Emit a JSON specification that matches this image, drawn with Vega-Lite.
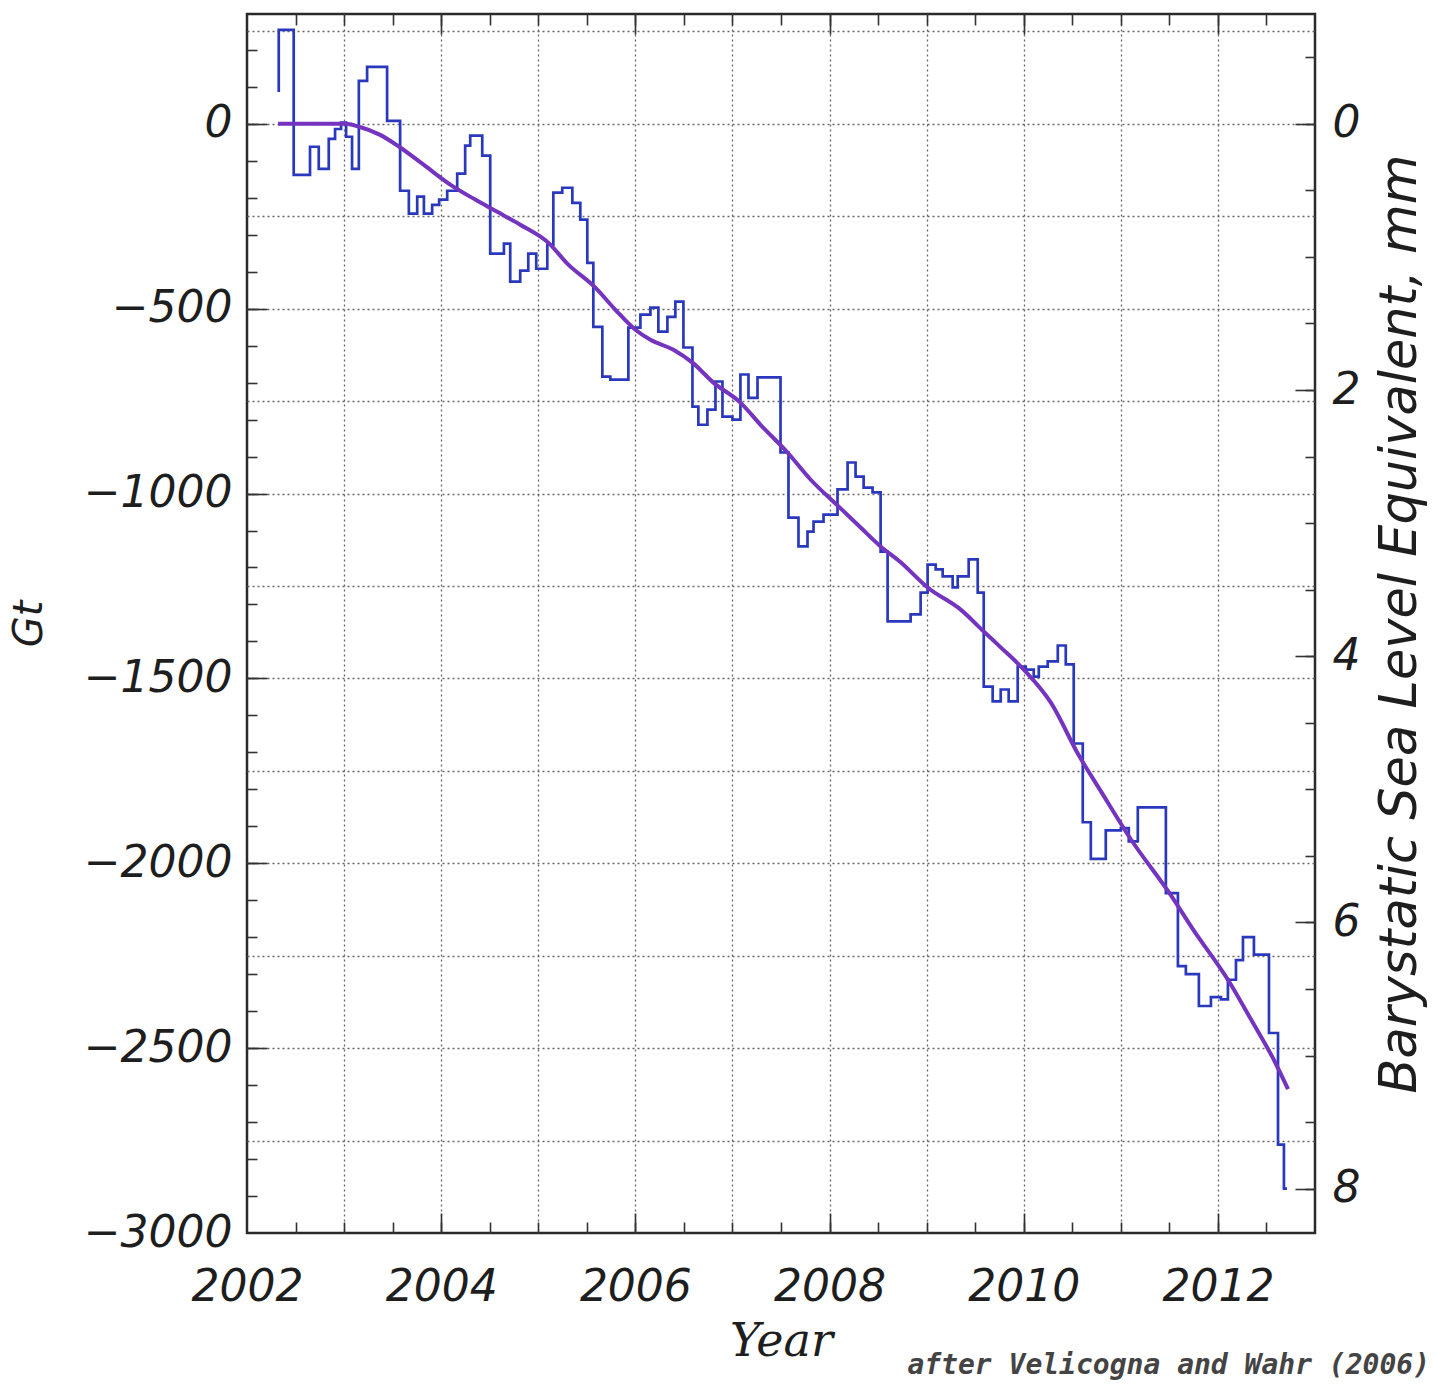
{
  "$schema": "https://vega.github.io/schema/vega-lite/v6.json",
  "width": 1068,
  "height": 1219,
  "autosize": {"type": "none"},
  "padding": {"left": 247, "top": 14, "right": 120, "bottom": 155},
  "background": "white",
  "title": {"text": "after Velicogna and Wahr (2006)", "orient": "bottom", "anchor": "end", "frame": "group", "offset": 0, "dx": 115, "dy": -12, "font": "DejaVu Sans Mono", "fontSize": 28, "fontStyle": "italic", "fontWeight": "bold", "color": "#444444"},
  "config": {
    "view": {"stroke": "#2a2a2a", "strokeWidth": 2.5},
    "axis": {"domain": false, "grid": false, "labelFont": "DejaVu Sans", "labelFontStyle": "italic", "labelFontSize": 44, "labelColor": "#1e1e1e", "labelFlush": false, "labelOverlap": false, "tickColor": "#333333", "tickWidth": 1.6, "titleFont": "DejaVu Sans", "titleFontStyle": "italic", "titleFontWeight": "normal", "titleColor": "#1e1e1e", "gridColor": "#666666", "gridDash": [2, 3], "gridWidth": 1.3, "gridOpacity": 1}
  },
  "datasets": {
    "step": [
      {"i": 0, "t": 2002.327, "gt": 86},
      {"i": 1, "t": 2002.327, "gt": 254},
      {"i": 2, "t": 2002.481, "gt": -138},
      {"i": 3, "t": 2002.649, "gt": -62},
      {"i": 4, "t": 2002.739, "gt": -122},
      {"i": 5, "t": 2002.842, "gt": -41},
      {"i": 6, "t": 2002.907, "gt": -14},
      {"i": 7, "t": 2002.969, "gt": 3},
      {"i": 8, "t": 2003.021, "gt": -35},
      {"i": 9, "t": 2003.082, "gt": -122},
      {"i": 10, "t": 2003.152, "gt": 116},
      {"i": 11, "t": 2003.237, "gt": 154},
      {"i": 12, "t": 2003.443, "gt": 8},
      {"i": 13, "t": 2003.577, "gt": -181},
      {"i": 14, "t": 2003.667, "gt": -243},
      {"i": 15, "t": 2003.753, "gt": -197},
      {"i": 16, "t": 2003.822, "gt": -243},
      {"i": 17, "t": 2003.907, "gt": -219},
      {"i": 18, "t": 2003.979, "gt": -205},
      {"i": 19, "t": 2004.062, "gt": -181},
      {"i": 20, "t": 2004.165, "gt": -135},
      {"i": 21, "t": 2004.247, "gt": -59},
      {"i": 22, "t": 2004.299, "gt": -32},
      {"i": 23, "t": 2004.423, "gt": -86},
      {"i": 24, "t": 2004.505, "gt": -351},
      {"i": 25, "t": 2004.646, "gt": -324},
      {"i": 26, "t": 2004.711, "gt": -427},
      {"i": 27, "t": 2004.814, "gt": -397},
      {"i": 28, "t": 2004.897, "gt": -351},
      {"i": 29, "t": 2004.979, "gt": -392},
      {"i": 30, "t": 2005.093, "gt": -327},
      {"i": 31, "t": 2005.155, "gt": -186},
      {"i": 32, "t": 2005.247, "gt": -173},
      {"i": 33, "t": 2005.351, "gt": -214},
      {"i": 34, "t": 2005.433, "gt": -259},
      {"i": 35, "t": 2005.505, "gt": -376},
      {"i": 36, "t": 2005.567, "gt": -549},
      {"i": 37, "t": 2005.66, "gt": -684},
      {"i": 38, "t": 2005.742, "gt": -692},
      {"i": 39, "t": 2005.928, "gt": -551},
      {"i": 40, "t": 2006.052, "gt": -516},
      {"i": 41, "t": 2006.155, "gt": -497},
      {"i": 42, "t": 2006.237, "gt": -562},
      {"i": 43, "t": 2006.33, "gt": -522},
      {"i": 44, "t": 2006.412, "gt": -481},
      {"i": 45, "t": 2006.495, "gt": -605},
      {"i": 46, "t": 2006.588, "gt": -765},
      {"i": 47, "t": 2006.649, "gt": -814},
      {"i": 48, "t": 2006.742, "gt": -773},
      {"i": 49, "t": 2006.825, "gt": -697},
      {"i": 50, "t": 2006.897, "gt": -792},
      {"i": 51, "t": 2007.0, "gt": -800},
      {"i": 52, "t": 2007.082, "gt": -678},
      {"i": 53, "t": 2007.165, "gt": -741},
      {"i": 54, "t": 2007.258, "gt": -686},
      {"i": 55, "t": 2007.495, "gt": -889},
      {"i": 56, "t": 2007.577, "gt": -1065},
      {"i": 57, "t": 2007.68, "gt": -1143},
      {"i": 58, "t": 2007.773, "gt": -1103},
      {"i": 59, "t": 2007.835, "gt": -1076},
      {"i": 60, "t": 2007.938, "gt": -1057},
      {"i": 61, "t": 2008.082, "gt": -989},
      {"i": 62, "t": 2008.186, "gt": -916},
      {"i": 63, "t": 2008.268, "gt": -954},
      {"i": 64, "t": 2008.351, "gt": -984},
      {"i": 65, "t": 2008.443, "gt": -997},
      {"i": 66, "t": 2008.526, "gt": -1157},
      {"i": 67, "t": 2008.598, "gt": -1346},
      {"i": 68, "t": 2008.835, "gt": -1327},
      {"i": 69, "t": 2008.938, "gt": -1268},
      {"i": 70, "t": 2009.01, "gt": -1192},
      {"i": 71, "t": 2009.093, "gt": -1205},
      {"i": 72, "t": 2009.165, "gt": -1224},
      {"i": 73, "t": 2009.268, "gt": -1254},
      {"i": 74, "t": 2009.32, "gt": -1224},
      {"i": 75, "t": 2009.433, "gt": -1178},
      {"i": 76, "t": 2009.526, "gt": -1268},
      {"i": 77, "t": 2009.588, "gt": -1522},
      {"i": 78, "t": 2009.68, "gt": -1562},
      {"i": 79, "t": 2009.763, "gt": -1530},
      {"i": 80, "t": 2009.845, "gt": -1562},
      {"i": 81, "t": 2009.938, "gt": -1468},
      {"i": 82, "t": 2010.021, "gt": -1476},
      {"i": 83, "t": 2010.103, "gt": -1495},
      {"i": 84, "t": 2010.155, "gt": -1468},
      {"i": 85, "t": 2010.247, "gt": -1454},
      {"i": 86, "t": 2010.351, "gt": -1411},
      {"i": 87, "t": 2010.433, "gt": -1462},
      {"i": 88, "t": 2010.515, "gt": -1676},
      {"i": 89, "t": 2010.608, "gt": -1889},
      {"i": 90, "t": 2010.691, "gt": -1988},
      {"i": 91, "t": 2010.845, "gt": -1911},
      {"i": 92, "t": 2011.0, "gt": -1905},
      {"i": 93, "t": 2011.082, "gt": -1941},
      {"i": 94, "t": 2011.175, "gt": -1849},
      {"i": 95, "t": 2011.464, "gt": -2081},
      {"i": 96, "t": 2011.588, "gt": -2278},
      {"i": 97, "t": 2011.67, "gt": -2300},
      {"i": 98, "t": 2011.804, "gt": -2386},
      {"i": 99, "t": 2011.928, "gt": -2362},
      {"i": 100, "t": 2012.031, "gt": -2368},
      {"i": 101, "t": 2012.103, "gt": -2315},
      {"i": 102, "t": 2012.186, "gt": -2262},
      {"i": 103, "t": 2012.258, "gt": -2200},
      {"i": 104, "t": 2012.371, "gt": -2247},
      {"i": 105, "t": 2012.526, "gt": -2459},
      {"i": 106, "t": 2012.619, "gt": -2761},
      {"i": 107, "t": 2012.68, "gt": -2880},
      {"i": 108, "t": 2012.711, "gt": -2880}
    ],
    "smooth": [
      {"t": 2002.32, "gt": 0},
      {"t": 2002.753, "gt": 0},
      {"t": 2003.01, "gt": 0},
      {"t": 2003.155, "gt": -8},
      {"t": 2003.371, "gt": -30},
      {"t": 2003.567, "gt": -62},
      {"t": 2003.835, "gt": -114},
      {"t": 2004.113, "gt": -168},
      {"t": 2004.351, "gt": -205},
      {"t": 2004.577, "gt": -238},
      {"t": 2004.814, "gt": -273},
      {"t": 2005.113, "gt": -324},
      {"t": 2005.299, "gt": -378},
      {"t": 2005.588, "gt": -443},
      {"t": 2005.794, "gt": -503},
      {"t": 2006.0, "gt": -557},
      {"t": 2006.155, "gt": -584},
      {"t": 2006.392, "gt": -611},
      {"t": 2006.588, "gt": -646},
      {"t": 2006.804, "gt": -700},
      {"t": 2007.082, "gt": -754},
      {"t": 2007.289, "gt": -814},
      {"t": 2007.567, "gt": -889},
      {"t": 2007.804, "gt": -962},
      {"t": 2008.093, "gt": -1035},
      {"t": 2008.32, "gt": -1092},
      {"t": 2008.526, "gt": -1143},
      {"t": 2008.732, "gt": -1186},
      {"t": 2009.01, "gt": -1254},
      {"t": 2009.351, "gt": -1314},
      {"t": 2009.588, "gt": -1373},
      {"t": 2009.763, "gt": -1416},
      {"t": 2010.0, "gt": -1476},
      {"t": 2010.278, "gt": -1565},
      {"t": 2010.567, "gt": -1708},
      {"t": 2010.794, "gt": -1805},
      {"t": 2011.103, "gt": -1935},
      {"t": 2011.515, "gt": -2086},
      {"t": 2011.742, "gt": -2178},
      {"t": 2012.113, "gt": -2319},
      {"t": 2012.34, "gt": -2422},
      {"t": 2012.577, "gt": -2532},
      {"t": 2012.722, "gt": -2611}
    ]
  },
  "resolve": {"axis": {"x": "independent", "y": "independent"}},
  "layer": [
    {
      "data": {"name": "smooth"},
      "mark": {"type": "line", "strokeOpacity": 0},
      "encoding": {
        "x": {"field": "t", "type": "quantitative", "scale": {"domain": [2002, 2013], "nice": false, "zero": false},
              "axis": {"orient": "bottom", "values": [2003, 2004, 2005, 2006, 2007, 2008, 2009, 2010, 2011, 2012], "grid": true, "ticks": false, "labels": false, "title": null}},
        "y": {"field": "gt", "type": "quantitative", "scale": {"domain": [-3000, 297], "nice": false, "zero": false},
              "axis": {"orient": "left", "values": [-2750, -2500, -2250, -2000, -1750, -1500, -1250, -1000, -750, -500, -250, 0, 250], "grid": true, "ticks": false, "labels": false, "title": null}}
      }
    },
    {
      "data": {"name": "step"},
      "mark": {"type": "line", "interpolate": "step-after", "color": "#2a38bd", "strokeWidth": 2.7},
      "encoding": {
        "x": {"field": "t", "type": "quantitative", "scale": {"domain": [2002, 2013], "nice": false, "zero": false},
              "axis": {"orient": "bottom", "values": [2002, 2004, 2006, 2008, 2010, 2012], "format": "d", "ticks": false, "labelPadding": 32, "title": "Year", "titleFont": "DejaVu Serif", "titleFontSize": 46, "titlePadding": 10}},
        "y": {"field": "gt", "type": "quantitative", "scale": {"domain": [-3000, 297], "nice": false, "zero": false},
              "axis": {"orient": "left", "values": [-3000, -2500, -2000, -1500, -1000, -500, 0], "format": "d", "ticks": false, "labelPadding": 15, "title": "Gt", "titleFontSize": 40, "titlePadding": 34}},
        "order": {"field": "i", "type": "quantitative"}
      }
    },
    {
      "data": {"name": "smooth"},
      "mark": {"type": "line", "interpolate": "monotone", "color": "#7434bf", "strokeWidth": 4},
      "encoding": {
        "x": {"field": "t", "type": "quantitative",
              "axis": {"orient": "bottom", "values": [2002.5, 2003, 2003.5, 2004, 2004.5, 2005, 2005.5, 2006, 2006.5, 2007, 2007.5, 2008, 2008.5, 2009, 2009.5, 2010, 2010.5, 2011, 2011.5, 2012, 2012.5], "tickSize": -11, "labels": false, "title": null}},
        "y": {"field": "gt", "type": "quantitative",
              "axis": {"orient": "left", "values": [-2900, -2800, -2700, -2600, -2500, -2400, -2300, -2200, -2100, -2000, -1900, -1800, -1700, -1600, -1500, -1400, -1300, -1200, -1100, -1000, -900, -800, -700, -600, -500, -400, -300, -200, -100, 0, 100, 200], "tickSize": -10, "labels": false, "title": null}}
      }
    },
    {
      "data": {"name": "smooth"},
      "mark": {"type": "line", "strokeOpacity": 0},
      "encoding": {
        "x": {"field": "t", "type": "quantitative",
              "axis": {"orient": "top", "values": [2002.5, 2003, 2003.5, 2004, 2004.5, 2005, 2005.5, 2006, 2006.5, 2007, 2007.5, 2008, 2008.5, 2009, 2009.5, 2010, 2010.5, 2011, 2011.5, 2012, 2012.5], "tickSize": -11, "labels": false, "title": null}},
        "y": {"field": "gt", "type": "quantitative",
              "axis": {"orient": "right", "values": [180, 0, -180, -360, -540, -720, -900, -1080, -1260, -1440, -1620, -1800, -1980, -2160, -2340, -2520, -2700, -2880], "tickSize": -10, "labels": false, "title": null}}
      }
    },
    {
      "data": {"name": "smooth"},
      "mark": {"type": "line", "strokeOpacity": 0},
      "encoding": {
        "x": {"field": "t", "type": "quantitative",
              "axis": {"orient": "top", "values": [2004, 2006, 2008, 2010, 2012], "tickSize": -20, "labels": false, "title": null}},
        "y": {"field": "gt", "type": "quantitative",
              "axis": {"orient": "right", "values": [0, -720, -1440, -2160, -2880], "tickSize": -20, "labels": false, "title": null}}
      }
    },
    {
      "data": {"name": "smooth"},
      "mark": {"type": "line", "strokeOpacity": 0},
      "encoding": {
        "x": {"field": "t", "type": "quantitative",
              "axis": {"orient": "bottom", "values": [2004, 2006, 2008, 2010, 2012], "tickSize": -20, "labels": false, "title": null}},
        "y": {"field": "gt", "type": "quantitative",
              "axis": {"orient": "left", "values": [-2500, -2000, -1500, -1000, -500, 0], "tickSize": -20, "labels": false, "title": null}}
      }
    },
    {
      "data": {"name": "smooth"},
      "mark": {"type": "line", "strokeOpacity": 0},
      "encoding": {
        "x": {"field": "t", "type": "quantitative", "axis": null},
        "y": {"field": "gt", "type": "quantitative",
              "axis": {"orient": "right", "values": [0, -720, -1440, -2160, -2880], "labelExpr": "format(abs(datum.value)/360, 'd')", "ticks": false, "labelPadding": 17, "title": "Barystatic Sea Level Equivalent, mm", "titleFontSize": 51, "titleAngle": 270, "titleBaseline": "top", "titlePadding": 16}}
      }
    }
  ]
}
